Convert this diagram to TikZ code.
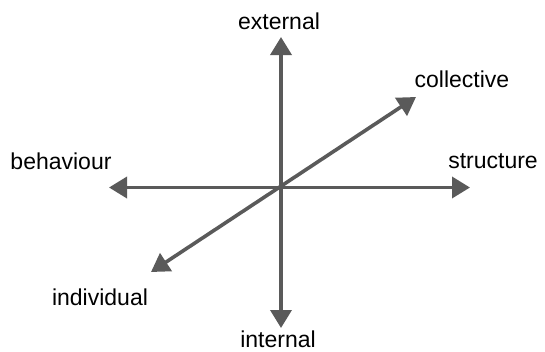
\documentclass[tikz,border=0pt]{standalone}
\usepackage{fontspec}
\setmainfont{Liberation Sans}
\usepackage{xcolor}
\usetikzlibrary{arrows.meta,positioning}

\definecolor{axisgray}{HTML}{5A5A5A}

\begin{document}
\begin{tikzpicture}[
  x=1pt, y=-1pt,
  font=\fontsize{23}{28}\selectfont,
  axis/.style={draw=axisgray, line width=3.6pt, {Triangle[length=18pt,width=21pt]}-{Triangle[length=18pt,width=21pt]}},
  lbl/.style={anchor=base, inner sep=0pt, text=black},
]
\useasboundingbox (0,0) rectangle (545,351);

% axis ends
\coordinate (ext) at (281,37);
\coordinate (int) at (281,328);
\coordinate (beh) at (109,187.5);
\coordinate (str) at (470,187.5);
\coordinate (ind) at (151,272);
\coordinate (col) at (416,97);

\draw[axis] (int) -- (ext);
\draw[axis] (beh) -- (str);
\draw[axis] (ind) -- (col);

% labels
\node[lbl] (extlbl) at (279,29)  {external};
\node[lbl] (intlbl) at (278,347) {internal};
\node[lbl] (behlbl) at (61,169)  {behaviour};
\node[lbl] (strlbl) at (493,168) {structure};
\node[lbl] (collbl) at (462,87)  {collective};
\node[lbl] (indlbl) at (100,305) {individual};
\end{tikzpicture}
\end{document}
